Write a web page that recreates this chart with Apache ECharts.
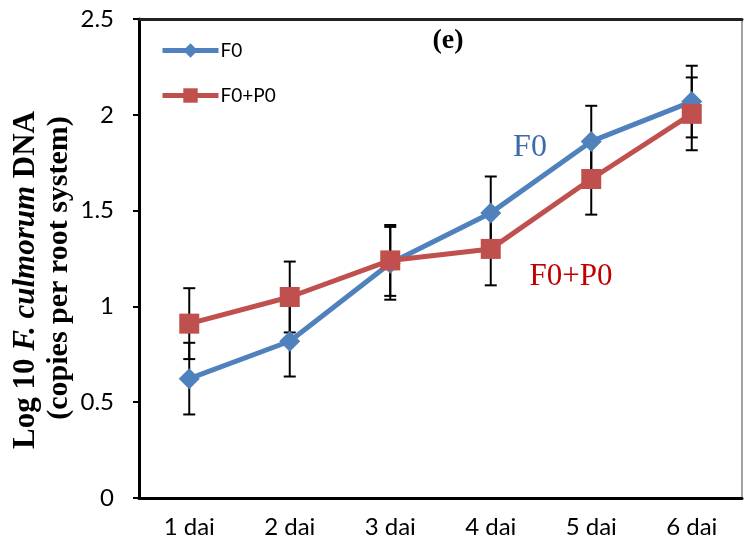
<!DOCTYPE html>
<html>
<head>
<meta charset="utf-8">
<script src="https://cdn.jsdelivr.net/npm/echarts@6/dist/echarts.min.js"></script>
<style>html,body{margin:0;padding:0;background:#fff;}#c{width:744px;height:549px;}</style>
</head>
<body>
<div id="c"></div>
<script>
var categories = ['1 dai', '2 dai', '3 dai', '4 dai', '5 dai', '6 dai'];
var f0Values = [0.623, 0.818, 1.225, 1.488, 1.861, 2.069];
var f0Errors = [0.187, 0.184, 0.19, 0.19, 0.186, 0.187];
var f0p0Values = [0.91, 1.049, 1.24, 1.30, 1.665, 2.005];
var f0p0Errors = [0.185, 0.185, 0.185, 0.19, 0.186, 0.19];
var yTicks = [0, 0.5, 1, 1.5, 2, 2.5];

var BLUE = '#4F81BD', RED = '#C0504D';

function errData(vals, errs) {
  return vals.map(function (v, i) { return [i, v - errs[i], v + errs[i]]; });
}
function errRender(params, api) {
  var x = api.value(0);
  var lo = api.coord([x, api.value(1)]);
  var hi = api.coord([x, api.value(2)]);
  var w = 6;
  var st = { stroke: '#000', lineWidth: 2 };
  return {
    type: 'group',
    children: [
      { type: 'line', shape: { x1: hi[0], y1: hi[1], x2: lo[0], y2: lo[1] }, style: st },
      { type: 'line', shape: { x1: hi[0] - w, y1: hi[1], x2: hi[0] + w, y2: hi[1] }, style: st },
      { type: 'line', shape: { x1: lo[0] - w, y1: lo[1], x2: lo[0] + w, y2: lo[1] }, style: st }
    ]
  };
}

var chart = echarts.init(document.getElementById('c'), null, { renderer: 'canvas' });
chart.setOption({
  animation: false,
  backgroundColor: '#fff',
  grid: { left: 139, right: 2, top: 19, bottom: 51, show: true, borderColor: '#444', borderWidth: 1 },
  legend: {
    orient: 'vertical', left: 155, top: 36, itemGap: 26, itemWidth: 56, itemHeight: 18,
    lineStyle: { width: 5 },
    textStyle: { fontFamily: 'Lato', fontSize: 19, color: '#000', padding: [0, 0, 0, -3] },
    data: [{ name: 'F0', itemStyle: { color: BLUE }, lineStyle: { color: BLUE, width: 5 } },
           { name: 'F0+P0', itemStyle: { color: RED }, lineStyle: { color: RED, width: 5 } }]
  },
  xAxis: [{
    type: 'category', data: categories, boundaryGap: true,
    axisLine: { lineStyle: { color: '#000', width: 3 } },
    axisTick: { inside: true, alignWithLabel: true, length: 5, lineStyle: { color: '#000', width: 2 } },
    axisLabel: { fontFamily: 'Lato', fontSize: 24, color: '#000', margin: 17 }
  }, {
    type: 'category', data: categories, position: 'top',
    axisLine: { lineStyle: { color: '#222', width: 3 } },
    axisTick: { show: false }, axisLabel: { show: false }
  }],
  yAxis: {
    type: 'value', min: 0, max: 2.5, interval: 0.5,
    splitLine: { show: false },
    axisLine: { show: true, lineStyle: { color: '#000', width: 3 } },
    axisTick: { show: true, length: 6, lineStyle: { color: '#000', width: 2 } },
    axisLabel: {
      fontFamily: 'Lato', fontSize: 24, color: '#000', margin: 25,
      formatter: function (v) { return yTicks.indexOf(v) >= 0 ? String(v) : ''; }
    }
  },
  series: [
    { type: 'custom', name: 'errF0', renderItem: errRender, data: errData(f0Values, f0Errors), z: 1, silent: true },
    { type: 'custom', name: 'errF0P0', renderItem: errRender, data: errData(f0p0Values, f0p0Errors), z: 1, silent: true },
    {
      type: 'line', name: 'F0', data: f0Values, symbol: 'diamond', symbolSize: 21,
      lineStyle: { color: BLUE, width: 5 }, itemStyle: { color: BLUE }, z: 3
    },
    {
      type: 'line', name: 'F0+P0', data: f0p0Values, symbol: 'rect', symbolSize: 20,
      lineStyle: { color: RED, width: 5 }, itemStyle: { color: RED }, z: 4
    }
  ],
  graphic: [
    { type: 'text', x: 448, y: 41, style: { text: '(e)', font: 'bold 28px "Liberation Serif"', fill: '#000', align: 'center', verticalAlign: 'middle' } },
    { type: 'text', x: 530, y: 148, style: { text: 'F0', font: '32px "Liberation Serif"', fill: '#3C6AAA', align: 'center', verticalAlign: 'middle' } },
    { type: 'text', x: 571, y: 277, style: { text: 'F0+P0', font: '31px "Liberation Serif"', fill: '#C00000', align: 'center', verticalAlign: 'middle' } },
    {
      type: 'text', x: 26, y: 280, rotation: Math.PI / 2,
      style: {
        text: '{b|Log 10 }{i|F. culmorum}{b| DNA}', align: 'center', verticalAlign: 'middle',
        rich: {
          b: { font: 'bold 31px "Liberation Serif"', fill: '#000' },
          i: { font: 'italic bold 31px "Liberation Serif"', fill: '#000' }
        }
      }
    },
    {
      type: 'text', x: 59, y: 268, rotation: Math.PI / 2,
      style: { text: '(copies per root system)', font: 'bold 30px "Liberation Serif"', fill: '#000', align: 'center', verticalAlign: 'middle' }
    }
  ]
});
</script>
</body>
</html>
